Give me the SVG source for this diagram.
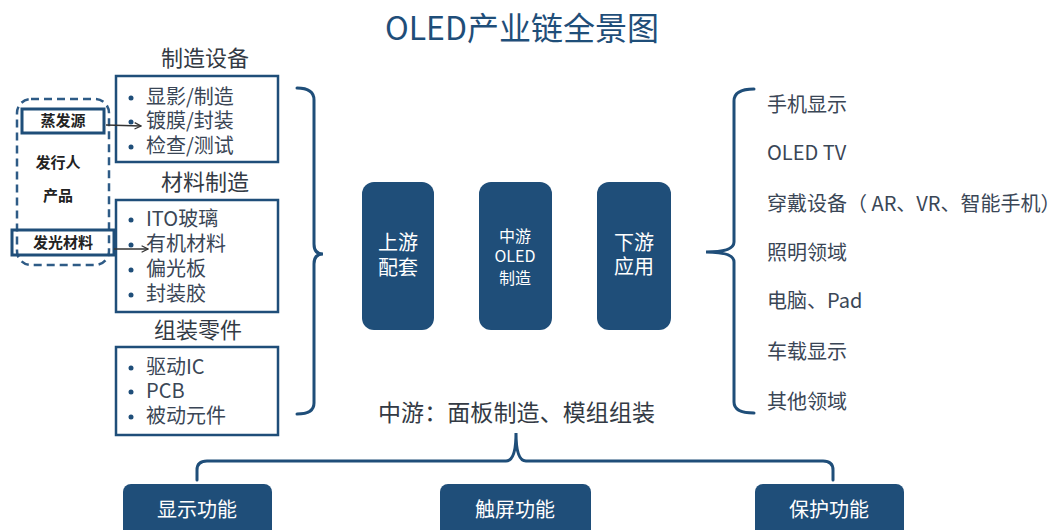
<svg xmlns="http://www.w3.org/2000/svg" width="1062" height="530" viewBox="0 0 1062 530">
<style>
text{font-family:"Noto Sans CJK SC","Noto Sans",sans-serif}
.title{font-size:32px;fill:#1f4e79;text-anchor:middle}
.head{font-size:22px;fill:#333a44;text-anchor:middle}
.item{font-size:20px;fill:#3a4656}
.list{fill:none;stroke:#1f4e79;stroke-width:2.5}
.dot{fill:#1f4e79}
.small{font-size:15px;font-weight:bold;fill:#222;text-anchor:middle}
.tag{fill:none;stroke:#1f4e79;stroke-width:3}
.blk{fill:#1f4e79}
.wt{fill:#fff;text-anchor:middle}
.brace{fill:none;stroke:#1f4e79;stroke-width:3;stroke-linecap:round}
.arr{stroke:#333;stroke-width:1.5;fill:none;marker-end:url(#ah)}
</style>
<defs>
<marker id="ah" viewBox="0 0 10 10" refX="9" refY="5" markerWidth="8" markerHeight="8" markerUnits="userSpaceOnUse" orient="auto">
<path d="M1,1 L9,5 L1,9" fill="none" stroke="#333" stroke-width="1.5"/>
</marker>
</defs>
<rect width="1062" height="530" fill="#fff"/>
<text class="title" x="522" y="40">OLED产业链全景图</text>

<g id="source-group">
<rect x="17" y="99" width="92" height="166" rx="14" fill="none" stroke="#2e5b86" stroke-width="2.5" stroke-dasharray="8 5"/>
<text class="small" x="58" y="168">发行人</text>
<text class="small" x="58" y="201">产品</text>
</g>
<g id="evap">
<rect class="tag" x="22" y="109" width="82" height="24"/>
<text class="small" x="63" y="126">蒸发源</text>
</g>
<g id="emit">
<rect class="tag" x="12" y="230" width="102" height="25"/>
<text class="small" x="63" y="248">发光材料</text>
</g>

<g id="equip">
<text class="head" x="205" y="66">制造设备</text>
<rect class="list" x="116" y="76" width="162" height="86"/>
<circle class="dot" cx="131" cy="98" r="2.5"/><text class="item" x="146" y="104">显影/制造</text>
<circle class="dot" cx="131" cy="122" r="2.5"/><text class="item" x="146" y="128">镀膜/封装</text>
<circle class="dot" cx="131" cy="147" r="2.5"/><text class="item" x="146" y="153">检查/测试</text>
</g>
<g id="material">
<text class="head" x="205" y="190">材料制造</text>
<rect class="list" x="116" y="200" width="162" height="112"/>
<circle class="dot" cx="131" cy="220" r="2.5"/><text class="item" x="146" y="226">ITO玻璃</text>
<circle class="dot" cx="131" cy="245" r="2.5"/><text class="item" x="146" y="251">有机材料</text>
<circle class="dot" cx="131" cy="270" r="2.5"/><text class="item" x="146" y="276">偏光板</text>
<circle class="dot" cx="131" cy="295" r="2.5"/><text class="item" x="146" y="301">封装胶</text>
</g>
<g id="parts">
<text class="head" x="198" y="338">组装零件</text>
<rect class="list" x="116" y="347" width="162" height="88"/>
<circle class="dot" cx="131" cy="368" r="2.5"/><text class="item" x="146" y="374">驱动IC</text>
<circle class="dot" cx="131" cy="392" r="2.5"/><text class="item" x="146" y="398">PCB</text>
<circle class="dot" cx="131" cy="417" r="2.5"/><text class="item" x="146" y="423">被动元件</text>
</g>

<g id="upstream">
<rect class="blk" x="362" y="182" width="72" height="148" rx="12"/>
<text class="wt" x="398" y="250" font-size="20">上游</text>
<text class="wt" x="398" y="275" font-size="20">配套</text>
</g>
<g id="midstream">
<rect class="blk" x="479" y="182" width="73" height="148" rx="12"/>
<text class="wt" x="515" y="242" font-size="16">中游</text>
<text class="wt" x="515" y="262" font-size="16">OLED</text>
<text class="wt" x="515" y="284" font-size="16">制造</text>
</g>
<g id="downstream">
<rect class="blk" x="597" y="182" width="74" height="148" rx="12"/>
<text class="wt" x="634" y="250" font-size="20">下游</text>
<text class="wt" x="634" y="274" font-size="20">应用</text>
</g>

<g id="apps">
<text class="item" x="767" y="112">手机显示</text>
<text class="item" x="767" y="160">OLED TV</text>
<text class="item" x="767" y="211">穿戴设备（ AR、VR、智能手机）</text>
<text class="item" x="767" y="260">照明领域</text>
<text class="item" x="767" y="308">电脑、Pad</text>
<text class="item" x="767" y="359">车载显示</text>
<text class="item" x="767" y="409">其他领域</text>
</g>

<text class="head" x="378" y="421" style="font-size:23px;text-anchor:start" textLength="277" lengthAdjust="spacing">中游：面板制造、模组组装</text>

<g id="display"><rect class="blk" x="123" y="484" width="149" height="56" rx="8"/><text class="wt" x="197" y="517" font-size="20">显示功能</text></g>
<g id="touch"><rect class="blk" x="440" y="484" width="151" height="56" rx="8"/><text class="wt" x="515" y="517" font-size="20">触屏功能</text></g>
<g id="protect"><rect class="blk" x="755" y="484" width="149" height="56" rx="8"/><text class="wt" x="829" y="517" font-size="20">保护功能</text></g>

<g id="connectors">
<path class="arr" d="M106,125 L141,126"/>
<path class="arr" d="M114,249 L148,249"/>
<path class="brace" d="M297,88 Q314,88 314,100 L314,244 Q314,254 323,254 Q314,254 314,264 L314,403 Q314,414 297,414"/>
<path class="brace" d="M754,89 Q734,89 734,101 L734,242 Q734,252 706,252 Q734,252 734,262 L734,402 Q734,413 754,413"/>
<path class="brace" d="M197,480 L197,470 Q197,461 207,461 L506,461 Q516,461 516,433 Q516,461 526,461 L823,461 Q833,461 833,470 L833,480"/>
</g>
</svg>
